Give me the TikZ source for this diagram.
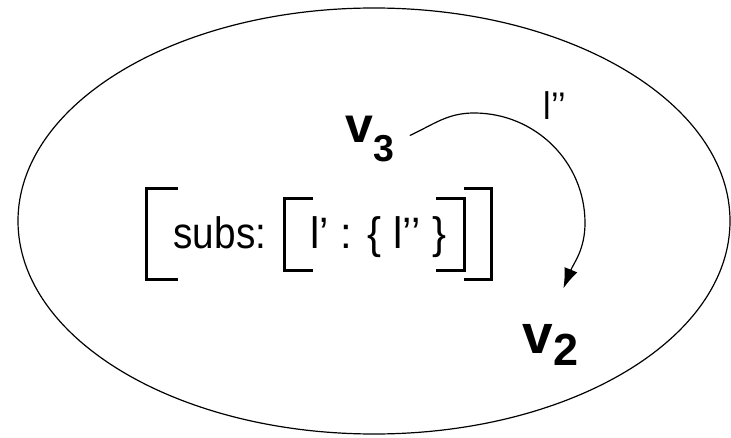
\documentclass[tikz,border=0pt]{standalone}
\usepackage{fontspec}
\setmainfont{Liberation Sans}
\usetikzlibrary{arrows.meta}

\tikzset{
  txt/.style={inner sep=0pt, anchor=base west, font=\fontsize{44}{44}\selectfont},
  vert/.style={inner sep=0pt, anchor=base west},
  brk/.style={line width=3pt},
  edge/.style={line width=1.2pt, -{Latex[length=20pt,width=14pt]}},
}
\newcommand{\narrow}[2][0.88]{\scalebox{#1}[1]{#2}}

\begin{document}
\begin{tikzpicture}[x=1pt, y=1pt, line width=1.2pt]
  \useasboundingbox (0,0) rectangle (731,437);

  % the region
  \draw (374,216) ellipse [x radius=356, y radius=213];

  % vertices
  \node[vert, font=\bfseries\fontsize{50}{50}\selectfont] (v3) at (345,294)
    {v\raisebox{-19pt}{\fontsize{37.5}{37.5}\selectfont 3}};
  \node[vert, font=\bfseries\fontsize{55}{55}\selectfont] (v2) at (522,84)
    {v\raisebox{-12pt}{\fontsize{45}{45}\selectfont 2}};

  % edge v3 -> v2
  \coordinate (peak) at (474,324);
  \coordinate (rim) at (585,214);
  \draw[edge] ([xshift=15pt,yshift=4pt]v3.east) to[out=25,in=180] (peak)
    to[out=0,in=90] (rim) to[out=-90,in=68] ([xshift=13pt,yshift=35pt]v2.north);
  \node[txt, font=\fontsize{38.5}{38.5}\selectfont] (lab) at (543,317) {\narrow{l’’}};

  % feature structure
  \node[txt] (subs) at (173,188) {\narrow{subs:}};
  \node[txt] (entry) at (310,189) {\narrow[0.95]{l’ : \{ l’’ \}}};

  % outer brackets
  \draw[brk] (178,248) -- (146,248) -- (146,158) -- (178,158);
  \draw[brk] (464,248) -- (491,248) -- (491,158) -- (464,158);
  % inner brackets
  \draw[brk] (313,238) -- (284,238) -- (284,167) -- (313,167);
  \draw[brk] (436,238) -- (464,238) -- (464,167) -- (436,167);
\end{tikzpicture}
\end{document}
